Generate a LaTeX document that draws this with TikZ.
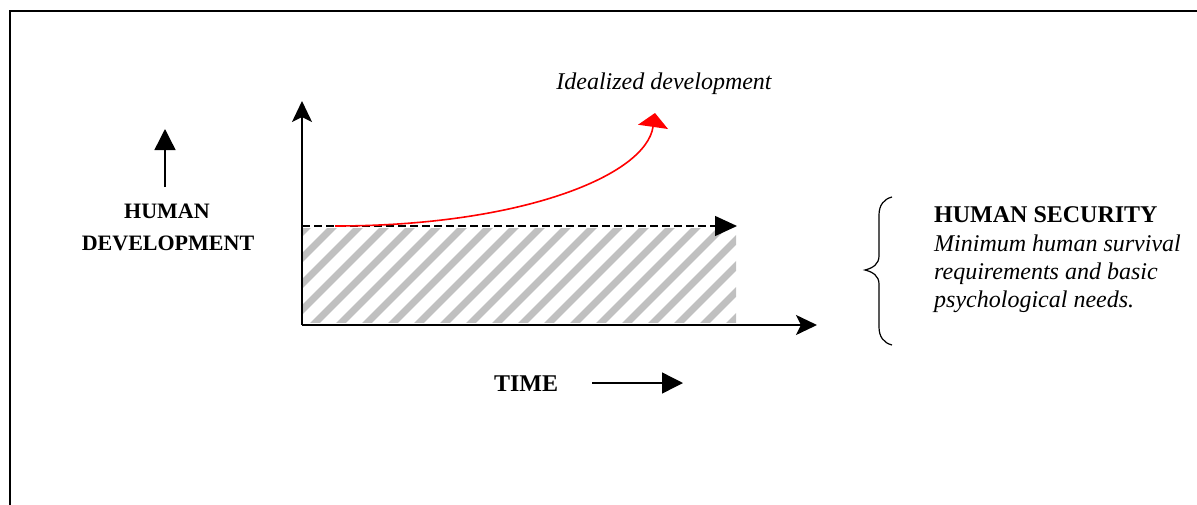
\documentclass[tikz,border=0pt]{standalone}
\usepackage{fontspec}
\setmainfont{Liberation Serif}
\usetikzlibrary{arrows.meta}

\tikzset{
  axis/.style={line width=1.8pt, -{Stealth[length=21pt,width=20pt,inset=5pt]}},
  hatchline/.style={draw={rgb,255:red,192;green,192;blue,192}, line width=7pt},
  level/.style={line width=1.4pt, dash pattern=on 8pt off 4pt, -{Triangle[length=22pt,width=20pt]}},
  ideal/.style={red, line width=1.6pt, -{Triangle[length=14pt,width=30pt]}},
  pointer/.style={line width=1.4pt, -{Triangle[length=21pt,width=21pt]}},
  bracestyle/.style={line width=1.2pt},
  frame/.style={line width=1.8pt},
  lbl/.style={inner sep=0pt, font=\fontsize{22}{28}\selectfont\bfseries},
  head/.style={inner sep=0pt, font=\fontsize{24}{28}\selectfont\bfseries},
  body/.style={inner sep=0pt, font=\fontsize{24}{28}\selectfont\itshape},
}

\begin{document}
\begin{tikzpicture}[x=1pt,y=-1pt]
  \useasboundingbox (0,0) rectangle (1197,504);

  % outer frame, open towards the right and bottom
  \begin{scope}
    \clip (0,0) rectangle (1197,504);
    \draw[frame] (10,11) rectangle (1220,530);
  \end{scope}

  % axes
  \coordinate (O) at (302,325);
  \coordinate (ytop) at (302,101);
  \coordinate (xend) at (817,325);

  % hatched band of human security
  \begin{scope}
    \clip (303,228) rectangle (736,322);
    \foreach \c in {482,508,...,1100}
      \draw[hatchline] (\c-330,330) -- (\c-220,220);
  \end{scope}

  \draw[axis] (O) -- (ytop);
  \draw[axis] (O) -- (xend);

  % security level
  \coordinate (lvl0) at (302,226);
  \coordinate (lvl1) at (737,226);
  \draw[level] (lvl0) -- (lvl1);

  % idealized development curve
  \coordinate (c0) at (335,226);
  \coordinate (c1) at (655,113);
  \draw[ideal] (c0) .. controls (520,226) and (646,176) .. (c1);
  \node[body, anchor=base] (ideal) at (664,89) {Idealized development};

  % left label with arrow
  \node[lbl, anchor=base] (hd1) at (167,218) {HUMAN};
  \node[lbl, anchor=base] (hd2) at (168,250) {DEVELOPMENT};
  \coordinate (up0) at (165,187);
  \coordinate (up1) at (165,129);
  \draw[pointer] (up0) -- (up1);

  % time label with arrow
  \node[head, anchor=base] (time) at (526,391) {TIME};
  \coordinate (t0) at (592,383);
  \coordinate (t1) at (683,383);
  \draw[pointer] (t0) -- (t1);

  % brace and human security text
  \coordinate (b0) at (892,197);
  \coordinate (bm) at (865,270);
  \coordinate (b1) at (892,345);
  \draw[bracestyle] (b0) .. controls (884,199) and (879,205) .. (879,215)
    -- (879,256) .. controls (879,264) and (873,268) .. (bm)
    .. controls (873,272) and (879,276) .. (879,284)
    -- (879,327) .. controls (879,337) and (884,343) .. (b1);

  \node[head, anchor=base west] (sec) at (934,222) {HUMAN SECURITY};
  \node[body, anchor=base west] (s1) at (934,251) {Minimum human survival};
  \node[body, anchor=base west] (s2) at (934,279) {requirements and basic};
  \node[body, anchor=base west] (s3) at (934,307) {psychological needs.};
\end{tikzpicture}
\end{document}
